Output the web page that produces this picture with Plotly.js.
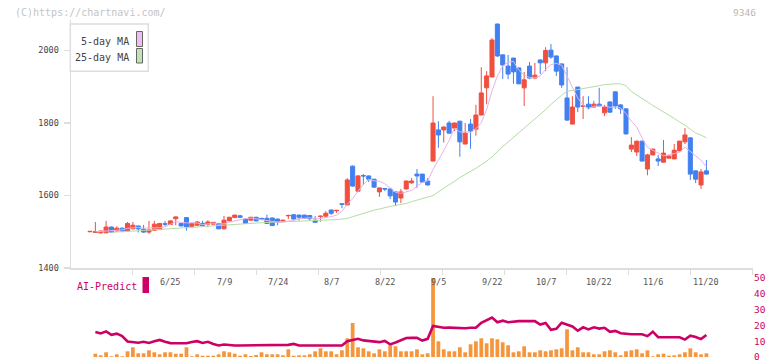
<!DOCTYPE html>
<html>
<head>
<meta charset="utf-8">
<script src="https://cdn.plot.ly/plotly-3.0.1.min.js"></script>
<style>html,body{margin:0;padding:0;background:#fff;}#chart{width:772px;height:361px;}</style>
</head>
<body>
<div id="chart"></div>
<script>
// ---- data, one entry per trading day ----
const dayIndex = Array.from({length:116}, (_, i) => i);

const openP = [1500,1498,1497,1497,1513,1502,1510,1502,1508,1516,
1507,1499,1504,1506,1522,1520,1536,1523,1539,1514,
1518,1523,1521,1521,1523,1508,1530,1539,1544,1535,
1532,1540,1537,1537,1538,1535,1528,1544,1547,1546,
1546,1545,1532,1542,1543,1560,1558,1577,1574,1681,
1612,1655,1654,1645,1610,1619,1618,1610,1593,1618,
1635,1659,1659,1640,1695,1781,1781,1800,1786,1805,
1742,1797,1783,1822,1897,1927,2073,1988,1957,1979,
1952,1897,1957,1924,1974,1966,2001,1985,1963,1869,
1797,1899,1846,1852,1844,1852,1828,1858,1886,1850,
1839,1728,1720,1750,1673,1712,1701,1692,1703,1701,
1723,1748,1759,1668,1629,1668];

const highP = [1502,1527,1503,1530,1514,1515,1511,1527,1527,1517,
1519,1530,1530,1524,1530,1531,1542,1524,1540,1524,
1530,1530,1532,1527,1524,1544,1541,1547,1547,1536,
1541,1541,1538,1547,1539,1536,1533,1547,1548,1547,
1547,1546,1543,1544,1557,1561,1560,1578,1648,1683,
1656,1659,1655,1646,1622,1621,1619,1611,1618,1641,
1648,1673,1660,1648,1874,1805,1790,1806,1801,1806,
1800,1811,1850,1954,1943,2034,2074,1989,1988,1980,
1953,1941,1968,1966,1975,2009,2018,1986,1964,1954,
1874,1900,1874,1874,1861,1897,1850,1860,1887,1852,
1840,1761,1751,1751,1715,1729,1712,1753,1710,1742,
1751,1786,1760,1669,1673,1698];

const lowP = [1500,1497,1495,1497,1498,1501,1499,1501,1507,1498,
1497,1494,1503,1505,1516,1519,1518,1515,1503,1513,
1517,1516,1514,1520,1507,1507,1529,1538,1539,1522,
1531,1529,1534,1522,1516,1518,1527,1535,1534,1531,
1536,1530,1525,1528,1540,1546,1552,1565,1573,1624,
1610,1629,1637,1622,1596,1612,1590,1571,1579,1617,
1632,1621,1636,1628,1694,1732,1746,1771,1778,1707,
1741,1729,1765,1821,1852,1926,1982,1921,1921,1908,
1907,1847,1921,1921,1935,1943,1977,1930,1897,1806,
1796,1830,1811,1839,1843,1846,1819,1828,1839,1825,
1768,1720,1709,1694,1656,1711,1681,1691,1702,1700,
1722,1742,1643,1634,1618,1658];

const closeP = [1501,1500,1502,1513,1499,1510,1502,1523,1518,1508,
1499,1505,1521,1523,1521,1530,1541,1516,1514,1523,
1527,1517,1527,1526,1508,1532,1540,1546,1540,1523,
1540,1530,1535,1523,1517,1527,1532,1545,1535,1540,
1537,1536,1526,1543,1551,1551,1559,1576,1643,1626,
1654,1654,1645,1623,1621,1618,1599,1582,1610,1640,
1640,1654,1637,1629,1800,1767,1789,1772,1800,1748,
1772,1778,1822,1883,1930,2029,1985,1960,1935,1941,
1908,1919,1924,1932,1966,2000,1982,1943,1905,1808,
1844,1844,1847,1844,1852,1847,1844,1830,1847,1839,
1770,1739,1750,1695,1712,1728,1695,1717,1709,1725,
1750,1767,1659,1645,1665,1659];

const ma5 = [null,1500,1501,1503,1503,1504.8,1505.2,1509.4,1510.4,1512.2,
1510,1510.6,1510.2,1511.2,1513.8,1520,1527.2,1526.2,1524.4,1524.8,
1524.2,1519.4,1521.6,1524,1521,1522,1526.6,1530.4,1533.2,1536.2,
1537.8,1535.8,1533.6,1530.2,1529,1526.4,1526.8,1528.8,1531.2,1535.8,
1537.8,1538.6,1534.8,1536.4,1538.6,1541.4,1546,1556,1576,1591,
1611.6,1630.6,1644.4,1640.4,1639.4,1632.2,1621.2,1608.6,1606,1609.8,
1614.2,1625.2,1636.2,1640,1672,1697.4,1724.4,1751.4,1785.6,1775.2,
1776.2,1774,1784,1800.6,1837,1888.4,1929.8,1957.4,1967.8,1970,
1945.8,1932.6,1925.4,1924.8,1929.8,1948.2,1960.8,1964.6,1959.2,1927.6,
1896.4,1868.8,1849.6,1837.4,1846.2,1846.8,1846.8,1843.4,1844,1841.4,
1826,1805,1789,1758.6,1733.2,1724.8,1716,1709.4,1712.2,1714.8,
1719.2,1733.6,1722,1709.2,1697.2,1679];

const ma25 = [null,null,null,null,1498.5,1499,1499.5,1500.5,1502,1503,
1503.5,1504.5,1505.5,1506.5,1508,1509.5,1510.5,1511.5,1513,1514,
1514.5,1515.5,1516.5,1517.5,1518.5,1519,1520,1521,1522,1523,
1524,1524.5,1525,1525.5,1526,1526.5,1527,1527.5,1528,1529,
1529.5,1530,1530,1531,1531.5,1532.5,1533.5,1534.8,1536.7,1541.4,
1546.1,1551,1555.6,1559.5,1562.8,1566.8,1569.9,1572.6,1574.5,1578,
1582.9,1587.4,1592.3,1596,1599.8,1610.2,1619.4,1629.5,1639.3,1649.6,
1657.5,1666.3,1675.1,1684.9,1694.5,1706.7,1721.7,1734.9,1747.5,1760,
1772.8,1784.4,1797.2,1810.9,1823.8,1836.8,1851.2,1864.3,1876.6,1887.6,
1889,1892,1895,1897,1900,1903,1906,1908,1908,1908,
1903,1887,1877,1866,1856,1848.4,1839.5,1831.2,1822.3,1812.6,
1802.6,1794,1782.7,1772.3,1766.6,1759.2];

// volume, arbitrary units (relative bar heights)
const volume = [0,3.3,1.7,4.7,0.7,2.7,0.7,5.7,9.7,3.7,
3.7,6.7,4.7,2.7,4.7,4.7,3.3,3.3,9.7,0.7,
2.7,1.3,1.3,1.3,2.7,5.7,4.7,3.3,1.3,2.7,
1.0,2.0,4.7,2.7,2.7,2.7,1.7,7.7,1.3,1.7,
1.7,2.7,5.7,8.7,5.7,5.7,2.7,6.7,18.7,34,
9.7,8.7,5.7,3.7,7.7,5.7,11.7,10.7,5.7,5.7,
5.7,7.7,2.7,3.7,79,15.7,7.7,5.7,5.7,9.7,
4.7,12.7,15.7,18.7,13.7,18.7,17.7,14.7,11.7,4.7,
5.7,10.7,4.7,4.7,6.7,5.7,6.7,7.7,8.7,27.7,
6.7,9.7,4.7,4.7,2.7,2.7,5.7,6.7,4.7,1.7,
5.7,6.7,7.7,3.7,6.7,0.7,2.7,3.3,1.3,1.7,
2.7,4.7,8.7,4.7,2.7,3.7];

const aiPredict = [null,15.8,14.9,16.2,14.0,14.8,13.3,9.8,9.3,9.0,
9.6,8.9,10.0,10.8,9.6,8.8,8.75,8.75,8.75,9.5,
10.0,8.9,9.6,8.2,7.3,7.9,7.5,7.3,7.3,7.3,
7.5,7.7,7.7,7.7,7.7,7.7,7.7,7.7,8.3,7.3,
7.3,7.3,7.3,7.3,7.3,7.3,7.3,7.3,10.0,10.8,
11.5,10.5,10.1,10.0,9.4,10.2,8.0,9.2,10.5,12.0,
12.1,12.1,10.4,11.5,19.6,19.0,18.5,18.6,18.5,18.0,
18.2,18.5,18.5,21.7,23.5,25.0,22.0,23.0,22.0,22.5,
22.7,22.7,22.7,22.7,20.5,21.5,17.2,17.8,21.7,20.5,
19.3,16.6,18.8,17.5,18.8,18.0,18.5,15.9,16.5,15.0,
14.5,14.4,14.4,14.4,13.2,16.0,12.5,12.5,12.6,12.6,
12.5,11.0,13.5,12.6,11.3,13.9];

const dateLabels = ['6/25','7/9','7/24','8/7','8/22','9/5','9/22','10/7','10/22','11/6','11/20'];
const dateLabelIdx = [15,25,35,45,55,65,75,85,95,105,115];
const priceTicks = [1400,1600,1800,2000];
const aiTicks = [0,10,20,30,40,50];

// ---- styling / layout helpers ----
const RED = '#f04f3f', BLUE = '#4080f0', ORANGE = '#f5963c', MAG = '#cc0066';
const MONO = 'DejaVu Sans Mono, Liberation Mono, monospace';
const ML = 71, MR = 19, MT = 20, MB = 4, W = 772, H = 361;
const PW = W - ML - MR, PH = H - MT - MB;
const px2x = px => (px - ML) / PW;
const py2y = py => (H - MB - py) / PH;
const xTickPos = [];
for (let k = 0; k < 12; k++) xTickPos.push((70.7 + 62 * k - 90) / 5.36);

const traces = [
  {type:'scatter', mode:'lines', x:dayIndex, y:ma25, xaxis:'x', yaxis:'y',
   line:{color:'#b4dca6', width:1}, hoverinfo:'skip'},
  {type:'scatter', mode:'lines', x:dayIndex, y:ma5, xaxis:'x', yaxis:'y',
   line:{color:'#e8b2ea', width:1}, hoverinfo:'skip'},
  {type:'candlestick', x:dayIndex, open:openP, high:highP, low:lowP, close:closeP,
   xaxis:'x', yaxis:'y',
   increasing:{line:{color:RED, width:1}, fillcolor:RED},
   decreasing:{line:{color:BLUE, width:1}, fillcolor:BLUE},
   whiskerwidth:0, hoverinfo:'skip'},
  {type:'bar', x:dayIndex, y:volume, xaxis:'x', yaxis:'y2',
   marker:{color:ORANGE, line:{width:0}}, width:0.7, hoverinfo:'skip'},
  {type:'scatter', mode:'lines', x:dayIndex, y:aiPredict, xaxis:'x', yaxis:'y3',
   line:{color:MAG, width:2.6}, hoverinfo:'skip'}
];

const annotations = [
  {xref:'paper', yref:'paper', x:px2x(13), y:py2y(12), xanchor:'left', yanchor:'middle',
   text:'(C)https://chartnavi.com/', showarrow:false, font:{family:MONO, size:10, color:'#c4c4c4'}},
  {xref:'paper', yref:'paper', x:px2x(758), y:py2y(12), xanchor:'right', yanchor:'middle',
   text:'9346', showarrow:false, font:{family:MONO, size:9.5, color:'#b8b8b8'}},
  {xref:'paper', yref:'paper', x:px2x(131), y:py2y(41), xanchor:'right', yanchor:'middle',
   text:'5-day MA', showarrow:false, font:{family:MONO, size:10, color:'#444'}},
  {xref:'paper', yref:'paper', x:px2x(131), y:py2y(57), xanchor:'right', yanchor:'middle',
   text:'25-day MA', showarrow:false, font:{family:MONO, size:10, color:'#444'}},
  {xref:'paper', yref:'paper', x:px2x(75), y:py2y(286), xanchor:'left', yanchor:'middle',
   text:'AI-Predict', showarrow:false, font:{family:MONO, size:10, color:MAG}}
];
dateLabels.forEach((t, k) => annotations.push({
  xref:'x', yref:'paper', x:dateLabelIdx[k], y:py2y(282), xanchor:'center', yanchor:'middle',
  text:t, showarrow:false, font:{family:MONO, size:8.5, color:'#555'}
}));

const shapes = [
  {type:'rect', xref:'paper', yref:'paper', x0:px2x(70.3), x1:px2x(148.3), y0:py2y(71.3), y1:py2y(24),
   line:{color:'#dddddd', width:1.5}, fillcolor:'#ffffff', layer:'above'},
  {type:'rect', xref:'paper', yref:'paper', x0:px2x(136.5), x1:px2x(142.5), y0:py2y(46.5), y1:py2y(31.5),
   line:{color:'#666', width:1}, fillcolor:'#efbdef', layer:'above'},
  {type:'rect', xref:'paper', yref:'paper', x0:px2x(136.5), x1:px2x(142.5), y0:py2y(63), y1:py2y(48.5),
   line:{color:'#666', width:1}, fillcolor:'#bfe3b5', layer:'above'},
  {type:'rect', xref:'paper', yref:'paper', x0:px2x(142.5), x1:px2x(149), y0:py2y(293), y1:py2y(277),
   line:{width:0}, fillcolor:MAG, layer:'above'}
];

const mainBottom = py2y(268);
const subTop = py2y(278);

const layout = {
  width:W, height:H,
  margin:{l:ML, r:MR, t:MT, b:MB, pad:0},
  paper_bgcolor:'#ffffff', plot_bgcolor:'#ffffff',
  showlegend:false,
  boxgap:0.13, boxgroupgap:0.13,
  xaxis:{range:[(ML - 90) / 5.36, (W - MR - 90) / 5.36], anchor:'y',
    rangeslider:{visible:false}, showgrid:false, zeroline:false,
    showline:true, linecolor:'#dddddd', linewidth:1.5,
    ticks:'outside', ticklen:5, tickcolor:'#dddddd', tickwidth:1.5,
    tickmode:'array', tickvals:xTickPos, showticklabels:false, fixedrange:true},
  yaxis:{domain:[mainBottom, 1], range:[1400, 1400 + 248 / 0.3625], anchor:'x',
    tickmode:'array', tickvals:priceTicks, ticktext:priceTicks.map(String),
    ticks:'outside', ticklen:6, tickcolor:'#dddddd', tickwidth:1.5,
    showline:true, linecolor:'#dddddd', linewidth:1.5,
    showgrid:false, zeroline:false, ticklabelstandoff:3,
    tickfont:{family:MONO, size:8.5, color:'#444'}},
  yaxis2:{domain:[0, subTop], range:[0, 79], anchor:'x', visible:false,
    showgrid:false, zeroline:false},
  yaxis3:{overlaying:'y2', side:'right', anchor:'x', range:[0, 50],
    tickmode:'array', tickvals:aiTicks, ticktext:aiTicks.map(String),
    showgrid:false, zeroline:false, showline:false, ticks:'',
    ticklabeloverflow:'allow',
    tickfont:{family:MONO, size:9.5, color:MAG}},
  annotations:annotations,
  shapes:shapes
};

Plotly.newPlot('chart', traces, layout, {staticPlot:true, displayModeBar:false});
</script>
</body>
</html>
